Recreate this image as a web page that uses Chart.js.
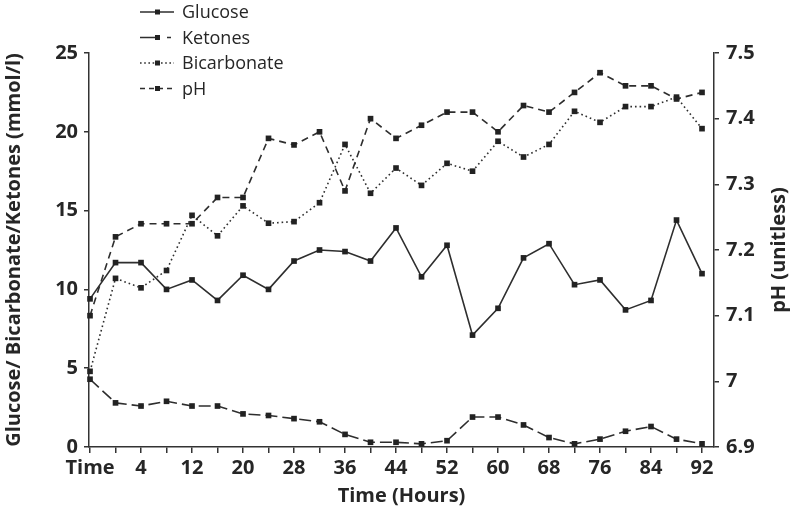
<!DOCTYPE html>
<html>
<head>
<meta charset="utf-8">
<script src="https://cdn.jsdelivr.net/npm/chart.js@4.4.0/dist/chart.umd.min.js"></script>
<style>
  body { margin: 0; background: #fff; }
  #wrap { width: 793px; height: 512px; }
</style>
</head>
<body>
<div id="wrap"><canvas id="myChart" width="793" height="512"></canvas></div>
<script>
'use strict';

// categories (hours), first one is the admission point
let hours = ['Time', '0', '4', '8', '12', '16', '20', '24', '28', '32', '36', '40', '44',
  '48', '52', '56', '60', '64', '68', '72', '76', '80', '84', '88', '92'];

// mmol/l
let glucose = [9.4, 11.7, 11.7, 10.0, 10.6, 9.3, 10.9, 10.0, 11.8, 12.5, 12.4, 11.8, 13.9,
  10.8, 12.8, 7.1, 8.8, 12.0, 12.9, 10.3, 10.6, 8.7, 9.3, 14.4, 11.0];
let ketones = [4.3, 2.8, 2.6, 2.9, 2.6, 2.6, 2.1, 2.0, 1.8, 1.6, 0.8, 0.3, 0.3,
  0.2, 0.4, 1.9, 1.9, 1.4, 0.6, 0.2, 0.5, 1.0, 1.3, 0.5, 0.2];
let bicarbonate = [4.8, 10.7, 10.1, 11.2, 14.7, 13.4, 15.3, 14.2, 14.3, 15.5, 19.2, 16.1, 17.7,
  16.6, 18.0, 17.5, 19.4, 18.4, 19.2, 21.3, 20.6, 21.6, 21.6, 22.2, 20.2];
// unitless
let ph = [7.10, 7.22, 7.24, 7.24, 7.24, 7.28, 7.28, 7.37, 7.36, 7.38, 7.29, 7.40, 7.37,
  7.39, 7.41, 7.41, 7.38, 7.42, 7.41, 7.44, 7.47, 7.45, 7.45, 7.43, 7.44];

let ink = '#262626';
let lineCol = '#2e2e2e';

function toPoints(arr) {
  return arr.map((v, i) => ({x: i, y: v}));
}

// legend drawn by hand: line sample with the marker in the middle, stacked top left
// also the right axis title, which reads bottom to top like the left one
let legendBox = {
  id: 'legendBox',
  afterDraw(chart) {
    let c = chart.ctx;
    chart.data.datasets.forEach((ds, i) => {
      let y = 12 + i * 25.5;
      c.save();
      c.strokeStyle = lineCol;
      c.lineWidth = 1.6;
      c.setLineDash(ds.legendDash);
      c.beginPath();
      c.moveTo(140, y);
      c.lineTo(174, y);
      c.stroke();
      c.setLineDash([]);
      c.fillStyle = '#222';
      c.fillRect(155, y - 2.5, 5, 5);
      c.font = '18px "Open Sans"';
      c.fillStyle = ink;
      c.textBaseline = 'middle';
      c.fillText(ds.label, 182, y + 1);
      c.restore();
    });

    let r = chart.scales.y2;
    c.save();
    c.translate(r.right - 14, (r.top + r.bottom) / 2);
    c.rotate(-Math.PI / 2);
    c.font = 'bold 20px "Open Sans"';
    c.fillStyle = ink;
    c.textAlign = 'center';
    c.textBaseline = 'middle';
    c.fillText('pH (unitless)', 0, 0);
    c.restore();
  }
};

let common = {
  borderColor: lineCol,
  borderWidth: 1.6,
  pointStyle: 'rect',
  pointRadius: 4,
  pointBackgroundColor: '#222',
  pointBorderWidth: 0,
  tension: 0,
  clip: false,
  fill: false
};

let ctx = document.getElementById('myChart').getContext('2d');
new Chart(ctx, {
  type: 'line',
  data: {
    datasets: [
      Object.assign({label: 'Glucose', data: toPoints(glucose), yAxisID: 'y', borderDash: [], legendDash: []}, common),
      Object.assign({label: 'Ketones', data: toPoints(ketones), yAxisID: 'y', borderDash: [12, 5], legendDash: [19, 8, 4, 10]}, common),
      Object.assign({label: 'Bicarbonate', data: toPoints(bicarbonate), yAxisID: 'y', borderDash: [1.6, 3], legendDash: [1.6, 2.6]}, common),
      Object.assign({label: 'pH', data: toPoints(ph), yAxisID: 'y2', borderDash: [7, 5], legendDash: [5, 4]}, common)
    ]
  },
  options: {
    responsive: false,
    animation: false,
    layout: {padding: {top: 53, left: 0, right: 0, bottom: 0}},
    plugins: {
      legend: {display: false},
      tooltip: {enabled: false}
    },
    scales: {
      x: {
        type: 'linear',
        min: -0.04,
        max: 24.47,
        afterFit(s) { s.height = 65; },
        afterBuildTicks(s) { s.ticks = hours.map((h, i) => ({value: i})); },
        ticks: {
          autoSkip: false,
          maxRotation: 0,
          padding: 3,
          color: ink,
          font: {family: 'Open Sans', size: 20, weight: 'bold'},
          callback: (v) => (v % 2 === 0 ? hours[v] : '')
        },
        grid: {drawOnChartArea: false, tickLength: 6, color: '#333', lineWidth: 1.5},
        border: {color: '#333', width: 1.5},
        title: {
          display: true,
          text: 'Time (Hours)',
          color: ink,
          font: {family: 'Open Sans', size: 20, weight: 'bold'},
          padding: {top: 0, bottom: 4}
        }
      },
      y: {
        position: 'left',
        min: 0,
        max: 25,
        afterFit(s) { s.width = 89; },
        ticks: {
          stepSize: 5,
          padding: 6,
          color: ink,
          font: {family: 'Open Sans', size: 20, weight: 'bold'}
        },
        grid: {drawOnChartArea: false, tickLength: 5, color: '#333', lineWidth: 1.5},
        border: {color: '#333', width: 1.5},
        title: {
          display: true,
          text: 'Glucose/ Bicarbonate/Ketones (mmol/l)',
          color: ink,
          font: {family: 'Open Sans', size: 20, weight: 'bold'},
          padding: {top: 2, bottom: 0}
        }
      },
      y2: {
        position: 'right',
        min: 6.9,
        max: 7.5,
        afterFit(s) { s.width = 79; },
        ticks: {
          stepSize: 0.1,
          padding: 7,
          color: ink,
          font: {family: 'Open Sans', size: 20, weight: 'bold'},
          callback: (v) => String(Math.round(v * 10) / 10)
        },
        grid: {drawOnChartArea: false, tickLength: 5, color: '#333', lineWidth: 1.5},
        border: {color: '#333', width: 1.5},
        title: {display: false}
      }
    }
  },
  plugins: [legendBox]
});
</script>
</body>
</html>
